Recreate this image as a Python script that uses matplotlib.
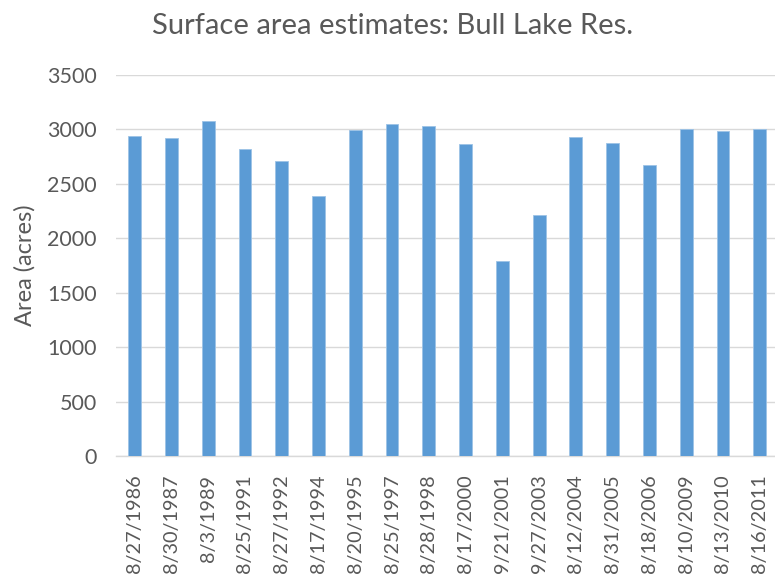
import matplotlib
matplotlib.use("Agg")
import matplotlib.pyplot as plt

dates = ["8/27/1986", "8/30/1987", "8/3/1989", "8/25/1991", "8/27/1992", "8/17/1994",
         "8/20/1995", "8/25/1997", "8/28/1998", "8/17/2000", "9/21/2001", "9/27/2003",
         "8/12/2004", "8/31/2005", "8/18/2006", "8/10/2009", "8/13/2010", "8/16/2011"]
area = [2936, 2921, 3077, 2820, 2712, 2386, 2994, 3052, 3031, 2866, 1788, 2210,
        2933, 2875, 2673, 3003, 2982, 3003]
yticks = [0, 500, 1000, 1500, 2000, 2500, 3000, 3500]

plt.rcParams['font.family'] = ['Lato', 'DejaVu Sans']
grey = '#595959'

fig = plt.figure(figsize=(7.75, 5.81), dpi=100)
ax = fig.add_axes([0.150, 0.2143, 0.854, 0.657])
x = list(range(len(dates)))
ax.bar(x, area, width=0.35, color='#5b9bd5', edgecolor='#9dc3e6', linewidth=0.6, zorder=3)
ax.set_xlim(-0.5, len(dates) - 0.5)
ax.set_ylim(0, 3500)
ax.set_yticks(yticks)
ax.set_yticklabels([str(v) for v in yticks], fontsize=15.5, color=grey)
ax.set_xticks(x)
ax.set_xticklabels(dates, rotation=90, fontsize=14.3, color=grey)
ax.tick_params(axis='both', length=0)
ax.tick_params(axis='y', pad=14)
ax.tick_params(axis='x', pad=13)
ax.grid(axis='y', color='#d9d9d9', linewidth=1, zorder=0)
for s in ['top', 'right', 'left']:
    ax.spines[s].set_visible(False)
ax.spines['bottom'].set_color('#d9d9d9')
ax.spines['bottom'].set_linewidth(1)
ax.set_ylabel('Area (acres)', fontsize=17, color=grey, labelpad=8)
fig.text(0.507, 0.955, 'Surface area estimates: Bull Lake Res.', ha='center', va='center',
         fontsize=21, color=grey)
fig.savefig('out.png', dpi=100)
